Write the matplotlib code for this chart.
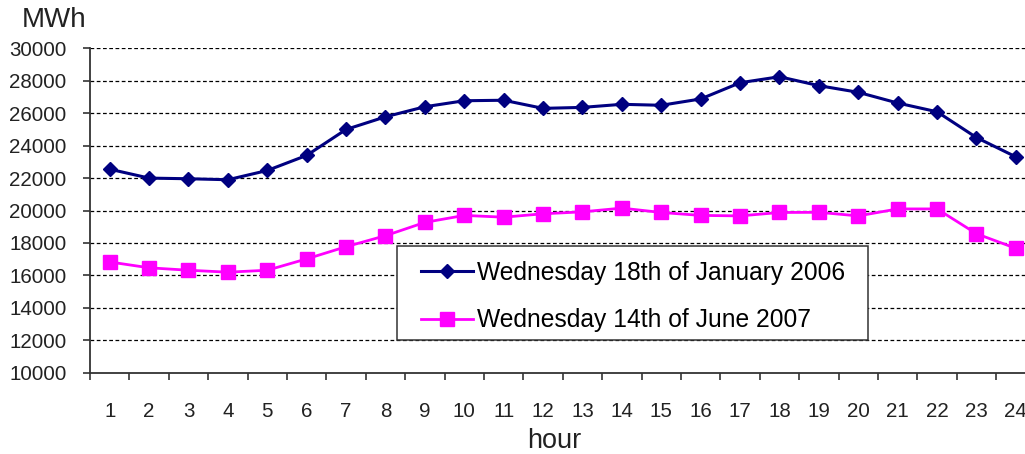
import numpy as np
import matplotlib.pyplot as plt
from matplotlib.patches import Rectangle
from matplotlib.ticker import FixedLocator

plt.rcParams['font.family'] = ['Liberation Sans', 'DejaVu Sans']

# hourly electricity demand, MWh
hours = list(range(1, 25))
january_2006 = [22550, 22000, 21960, 21900, 22470, 23400, 25000, 25780,
                26400, 26770, 26800, 26300, 26360, 26550, 26490, 26880,
                27880, 28250, 27700, 27290, 26630, 26090, 24500, 23310]
june_2007 = [16830, 16470, 16320, 16200, 16320, 17020, 17770, 18450,
             19270, 19700, 19590, 19800, 19920, 20150, 19880, 19700,
             19670, 19880, 19890, 19670, 20100, 20100, 18570, 17670]
series_labels = ['Wednesday 18th of January 2006', 'Wednesday 14th of June 2007']
y_ticks = list(range(10000, 30001, 2000))


def plot_demand():
    fig = plt.figure(figsize=(10.25, 4.54), dpi=100)
    ax = fig.add_axes([0.0878, 0.179, 0.9225, 0.7145])

    ax.plot(hours, january_2006, color='#000080', lw=2.2, marker='D',
            ms=7, label=series_labels[0], zorder=3)
    ax.plot(hours, june_2007, color='#FF00FF', lw=2.0, marker='s',
            ms=9.7, label=series_labels[1], zorder=3)

    ax.set_xlim(0.5, 24.5)
    ax.set_ylim(10000, 30000)

    # category labels centred, tick marks between categories
    ax.set_xticks(hours)
    ax.set_xticklabels([str(h) for h in hours])
    ax.xaxis.set_minor_locator(FixedLocator(np.arange(0.5, 25, 1)))
    ax.tick_params(axis='x', which='major', length=0, pad=21,
                   labelsize=14.8, labelcolor='#222222')
    ax.tick_params(axis='x', which='minor', length=5, width=1.2,
                   direction='out', color='#333333')

    ax.set_yticks(y_ticks)
    ax.tick_params(axis='y', length=5, width=1.2, direction='out',
                   pad=12, labelsize=14.8, labelcolor='#222222',
                   color='#333333')

    for y in y_ticks[1:]:
        ax.axhline(y, color='black', lw=0.9, ls=(0, (3, 2)), zorder=1)

    for side in ['top', 'right']:
        ax.spines[side].set_visible(False)
    for side in ['left', 'bottom']:
        ax.spines[side].set_color('#333333')
        ax.spines[side].set_linewidth(1.3)

    # legend box drawn separately so the entries can sit freely inside it
    box = Rectangle((0.325, 0.101), 0.498, 0.289, transform=ax.transAxes,
                    facecolor='white', edgecolor='#333333', lw=1.1, zorder=4)
    ax.add_patch(box)
    leg = ax.legend(loc='upper left', bbox_to_anchor=(0.350, 0.345),
                    fontsize=17.7, frameon=False, handlelength=2.1,
                    handletextpad=0.2, borderaxespad=0, borderpad=0,
                    labelspacing=0.95)
    leg.set_zorder(5)

    fig.text(0.0532, 1 - 27.3 / 454, 'MWh', fontsize=20, ha='center',
             va='baseline', color='#222222')
    fig.text(0.541, 1 - 448 / 454, 'hour', fontsize=19.5, ha='center',
             va='baseline', color='#222222')

    fig.savefig('out.png', dpi=100)


plot_demand()
